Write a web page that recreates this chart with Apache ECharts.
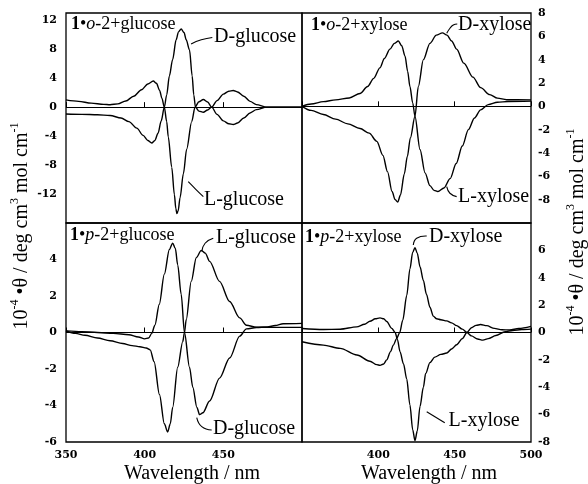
<!DOCTYPE html>
<html><head><meta charset="utf-8">
<script src="https://cdn.jsdelivr.net/npm/echarts@6/dist/echarts.min.js"></script>
<style>html,body{margin:0;padding:0;background:#fff}#c{width:588px;height:484px}</style>
</head><body><div id="c"></div>
<script>
// ---- axis ticks ----
const wavelengthRange = [350, 500];
const yTicksTopLeft = [-12, -8, -4, 0, 4, 8, 12];
const yTicksTopRight = [-8, -6, -4, -2, 0, 2, 4, 6, 8];
const yTicksBottomLeft = [-6, -4, -2, 0, 2, 4];
const yTicksBottomRight = [-8, -6, -4, -2, 0, 2, 4, 6];

// ---- 1•o-2 + glucose  [wavelength nm, 10^-4 θ] ----
const oGlucoseD = [[350,-0.95],[360,-1.0],[370,-1.05],[378,-1.15],[385,-1.5],[390,-2.0],[395,-2.9],[399,-3.9],[402,-4.6],[404.5,-4.95],[406.5,-4.6],[408.5,-3.6],[410.5,-1.9],[412.5,0],[414,1.7],[415.7,4.3],[417.8,6.6],[420,9.3],[421.5,10.4],[423.2,10.8],[425,10.3],[426.4,9.3],[428.5,7.9],[430.2,4.3],[431.2,1.7],[432.3,0],[434.5,-0.55],[437.3,-0.7],[440,-0.4],[442.6,0],[446,0.9],[450,1.8],[453.5,2.2],[456.3,2.3],[459,2.1],[463,1.5],[467,0.8],[471,0.35],[477.6,0],[500,0]];
const oGlucoseL = [[350,1.0],[358,0.8],[366,0.55],[374,0.38],[378,0.33],[383,0.45],[388,0.85],[393,1.5],[398,2.4],[402,3.2],[405.5,3.6],[407.5,3.3],[409.5,2.3],[411,1.2],[412.5,0],[414,-2.0],[415,-4.1],[417.2,-8.3],[418.9,-12.1],[419.8,-14.0],[420.5,-14.7],[421.3,-14.3],[422.5,-12.5],[424.6,-9.2],[426.7,-5.8],[429.9,-2.0],[432,0],[434.5,0.75],[437.3,1.05],[440,0.7],[442.6,0],[446,-1.0],[450,-1.9],[453.5,-2.3],[456.3,-2.4],[459,-2.2],[463,-1.5],[467,-0.8],[471,-0.35],[477.6,0],[500,0]];

// ---- 1•o-2 + xylose ----
const oXyloseD = [[350,0],[356,-0.35],[364,-0.7],[372,-1.1],[380,-1.5],[388,-1.9],[394,-2.3],[399,-3.0],[403,-4.2],[406,-5.6],[409,-7.3],[411,-8.0],[412.7,-8.2],[414.5,-7.6],[417,-5.8],[419,-4.3],[421,-2.7],[424,-0.85],[426.2,1.7],[429.5,4.0],[433.8,5.4],[438,6.1],[442,6.3],[445,6.1],[448,5.6],[451.3,4.9],[456,3.7],[462,2.5],[467,1.6],[473,1.0],[478,0.7],[484,0.57],[500,0.55]];
const oXyloseL = [[350,0],[356,0.2],[364,0.4],[372,0.55],[381,0.72],[388,1.1],[393,1.7],[397,2.4],[401,3.3],[404,4.1],[407.6,4.9],[410.5,5.4],[413.1,5.6],[415.3,5.2],[417.5,4.3],[419.2,3.0],[420.7,1.7],[422.5,0.3],[424,-0.85],[427.3,-3.7],[430.6,-5.7],[433.8,-6.8],[436.5,-7.2],[439,-7.3],[443,-7.0],[447,-6.2],[451,-4.9],[455,-3.4],[459,-2.0],[463,-1.0],[467,-0.3],[472,0.15],[478,0.35],[485,0.42],[500,0.45]];

// ---- 1•p-2 + glucose ----
const pGlucoseD = [[350,0.09],[360,0.05],[370,0.0],[380,-0.05],[390,-0.12],[396,-0.25],[400,-0.35],[402.5,-0.3],[404.5,-0.05],[406.5,0.4],[409.3,1.55],[412.5,3.2],[415.7,4.55],[417.8,4.9],[419.5,4.6],[421,3.7],[423.2,2.1],[425.3,0],[428.5,-1.9],[430.6,-3.0],[433.2,-4.1],[434.9,-4.5],[437,-4.4],[441.3,-3.75],[447.6,-2.5],[454,-1.4],[460.4,-0.2],[464.7,0.2],[471,0.27],[478,0.3],[483,0.38],[488,0.48],[500,0.5]];
const pGlucoseL = [[350,0.09],[356,-0.05],[362,-0.15],[370,-0.3],[378,-0.45],[386,-0.6],[392,-0.72],[397,-0.78],[401,-0.85],[403.5,-0.95],[406,-1.6],[409.4,-3.4],[412.5,-5.0],[414.6,-5.45],[416.3,-5.0],[417.8,-4.1],[421,-1.9],[424.2,-0.5],[425.3,0],[426.4,0.7],[429.6,2.8],[432.8,4.1],[436,4.5],[438.5,4.35],[441.3,3.9],[447.6,2.8],[454,1.7],[460.4,0.8],[464.7,0.4],[471,0.29],[480,0.28],[490,0.28],[500,0.28]];

// ---- 1•p-2 + xylose ----
const pXyloseD = [[350,-0.68],[364,-0.92],[375,-1.16],[386,-1.64],[394.5,-2.1],[399,-2.35],[401.1,-2.4],[403.5,-2.3],[405.5,-2.0],[408,-1.4],[409.8,-0.92],[412,-0.45],[414,0],[416,0.9],[418.6,2.7],[420.7,4.65],[422.5,5.85],[424,6.2],[425.5,5.8],[427.3,4.8],[429.5,3.8],[431.5,2.8],[433.8,1.85],[436,1.2],[438.2,1.0],[441,0.93],[444.8,0.85],[448,0.7],[451.3,0.5],[455,0.25],[458,0],[461,-0.25],[465,-0.48],[468.5,-0.56],[472,-0.45],[477,-0.22],[483,0.05],[488,0.15],[494,0.22],[500,0.25]];
const pXyloseL = [[350,0.29],[364,0.22],[375,0.24],[385.8,0.41],[391,0.6],[394.5,0.82],[398,1.0],[401.1,1.07],[403.5,1.0],[405.5,0.8],[408.8,0.3],[411,0],[412.5,-0.5],[414.2,-1.4],[416.5,-2.3],[418.6,-3.4],[420.7,-5.3],[422.5,-7.1],[424,-7.9],[425.5,-7.2],[427.3,-5.4],[429.5,-4.0],[431,-3.0],[433.8,-2.2],[437,-1.8],[441,-1.6],[444.8,-1.5],[448,-1.2],[451.3,-0.9],[455,-0.45],[458,0],[461,0.35],[464,0.52],[467,0.58],[471,0.5],[476,0.3],[481,0.2],[486,0.18],[492,0.3],[500,0.45]];

// ---- panel titles and curve annotations ----
const panelTitles = ['{b|1}•{i|o}-2+glucose', '{b|1}•{i|o}-2+xylose', '{b|1}•{i|p}-2+glucose', '{b|1}•{i|p}-2+xylose'];
const annotations = [
  {grid:0, text:'D-glucose', pos:[444.1, 9.69], leader:[[429.5, 8.72],[436, 9.3],[443.0, 9.62]]},
  {grid:0, text:'L-glucose', pos:[437.7, -12.8], leader:[[427.7, -10.3],[432.5,-11.35],[437.3, -12.37]]},
  {grid:1, text:'D-xylose', pos:[452.2, 6.97], leader:[[444.8, 6.26],[446.9, 6.69],[449.1, 6.97],[451.7, 7.06]]},
  {grid:1, text:'L-xylose', pos:[452.2, -7.77], leader:[[444.8, -6.89],[446.9, -7.45],[451.3, -7.74]]},
  {grid:2, text:'L-glucose', pos:[445.3, 5.18], leader:[[436.3, 4.43],[438.4, 4.89],[443.6, 5.16]]},
  {grid:2, text:'D-glucose', pos:[443.4, -5.29], leader:[[433.1, -4.66],[436.3, -5.16],[442.6, -5.34]]},
  {grid:3, text:'D-xylose', pos:[433.2, 6.98], leader:[[422.9, 6.39],[425.1, 6.88],[431.7, 7.05]]},
  {grid:3, text:'L-xylose', pos:[446.0, -6.47], leader:[[431.7, -5.79],[443.5, -6.6]]}
];

const SERIF = '"Liberation Serif","Times New Roman",serif';
const TICKFONT = '"DejaVu Serif","Liberation Serif",serif';
const chart = echarts.init(document.getElementById('c'), null, {renderer:'canvas'});

const grids = [
  {left:66, top:13, width:236, height:210},
  {left:302, top:13, width:229, height:210},
  {left:66, top:223, width:236, height:219},
  {left:302, top:223, width:229, height:219}
].map(g => Object.assign(g, {show:true, borderColor:'#000', borderWidth:1.3, backgroundColor:'transparent', outerBoundsMode:'none'}));

const tickLabelStyle = {fontFamily:TICKFONT, fontWeight:'bold', fontSize:11, color:'#000'};

function xAxis(i, labelFilter) {
  return {
    gridIndex:i, type:'value', min:wavelengthRange[0], max:wavelengthRange[1], interval:50,
    axisLine:{show:false}, splitLine:{show:false},
    axisTick:{show:true, inside:true, length:5, lineStyle:{color:'#000', width:1}},
    axisLabel: labelFilter ? Object.assign({show:true, margin:8, showMinLabel:true, showMaxLabel:true,
      formatter: v => labelFilter(v) ? String(v) : ''}, tickLabelStyle) : {show:false}
  };
}
function yAxis(i, min, max, interval, ticks, pos) {
  return {
    gridIndex:i, type:'value', min, max, interval, position:pos,
    axisLine:{show:false}, axisTick:{show:false}, splitLine:{show:false},
    axisLabel:Object.assign({margin: pos === 'left' ? 9 : 7, showMinLabel:true, showMaxLabel:true,
      formatter: v => ticks.includes(v) ? String(v) : ''}, tickLabelStyle)
  };
}

const zeroLine = {silent:true, symbol:['none','none'], label:{show:false}, lineStyle:{color:'#000', width:1, type:'solid'}, data:[{yAxis:0}]};
function curve(i, data, withZero) {
  const s = {type:'line', xAxisIndex:i, yAxisIndex:i, data, showSymbol:false, smooth:0.3, smoothMonotone:'x',
    lineStyle:{color:'#000', width:1.4}, itemStyle:{color:'#000'}, z:3};
  if (withZero) s.markLine = zeroLine;
  return s;
}

chart.setOption({
  animation:false,
  backgroundColor:'#fff',
  grid:grids,
  xAxis:[xAxis(0,null), xAxis(1,null), xAxis(2, v => v !== 500), xAxis(3, v => v !== 350)],
  yAxis:[
    yAxis(0, -16, 13, 4, yTicksTopLeft, 'left'),
    yAxis(1, -10, 8, 2, yTicksTopRight, 'right'),
    yAxis(2, -6, 6, 2, yTicksBottomLeft, 'left'),
    yAxis(3, -8, 8, 2, yTicksBottomRight, 'right')
  ],
  series:[
    curve(0, oGlucoseD, true), curve(0, oGlucoseL, false),
    curve(1, oXyloseD, true), curve(1, oXyloseL, false),
    curve(2, pGlucoseD, true), curve(2, pGlucoseL, false),
    curve(3, pXyloseD, true), curve(3, pXyloseL, false)
  ]
});

// ---- text overlays ----
const graphics = [];
const titleRich = {
  b:{fontFamily:SERIF, fontSize:18, fontWeight:'bold', fill:'#000'},
  i:{fontFamily:SERIF, fontSize:18, fontStyle:'italic', fill:'#000'}
};
const titlePos = [[71,24],[311,25],[70,235],[305,237]];
panelTitles.forEach((t, k) => {
  graphics.push({type:'text', x:titlePos[k][0], y:titlePos[k][1], z:10,
    style:{text:t, fontFamily:SERIF, fontSize:18, fill:'#000', align:'left', verticalAlign:'middle', rich:titleRich}});
});
annotations.forEach(a => {
  const pts = a.leader.map(p => chart.convertToPixel({gridIndex:a.grid}, p));
  graphics.push({type:'polyline', z:10, shape:{points:pts, smooth:0.5}, style:{stroke:'#000', lineWidth:1.1, fill:'none'}});
  const tp = chart.convertToPixel({gridIndex:a.grid}, a.pos);
  graphics.push({type:'text', x:tp[0], y:tp[1], z:10,
    style:{text:a.text, fontFamily:SERIF, fontSize:20, fill:'#000', align:'left', verticalAlign:'middle'}});
});
const supRich = {s:{fontFamily:SERIF, fontSize:12, fill:'#000', verticalAlign:'top', lineHeight:12}};
const yTitle = '10{s|-4} •θ / deg cm{s|3} mol cm{s|-1}';
[[22,226],[578,232]].forEach(p => {
  graphics.push({type:'text', x:p[0], y:p[1], rotation:Math.PI/2, z:10,
    style:{text:yTitle, fontFamily:SERIF, fontSize:20, lineHeight:26, fill:'#000', align:'center', verticalAlign:'middle', rich:supRich}});
});
[[192,474],[429,474]].forEach(p => {
  graphics.push({type:'text', x:p[0], y:p[1], z:10,
    style:{text:'Wavelength / nm', fontFamily:SERIF, fontSize:20, fill:'#000', align:'center', verticalAlign:'middle'}});
});
chart.setOption({graphic:graphics});
</script>
</body></html>
